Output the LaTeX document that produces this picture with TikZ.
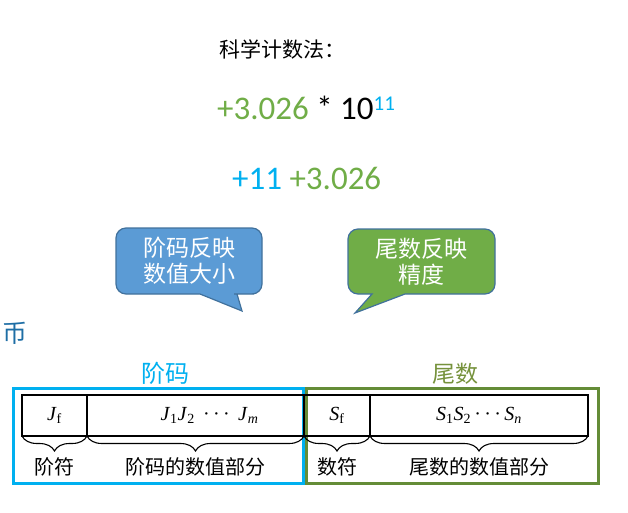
\documentclass[tikz,border=0pt]{standalone}
\usepackage{fontspec}
\setmainfont{Carlito}
\newfontfamily\cjk{Noto Sans CJK SC}
\newfontfamily\cellfont{Liberation Serif}
\usepackage{tikz}
\usetikzlibrary{
	positioning,
	decorations.pathreplacing
}
\definecolor{ExpBlue}{RGB}{0,176,240}
\definecolor{ManGreen}{RGB}{112,173,71}
\definecolor{ManOlive}{RGB}{118,146,60}
\definecolor{ManDark}{RGB}{100,140,55}
\definecolor{NoteBlue}{RGB}{91,155,213}
\definecolor{NoteEdge}{RGB}{65,113,156}
\definecolor{StrayBlue}{RGB}{30,110,165}
\newcommand{\symsub}[2]{\textit{#1}\textsubscript{#2}}
\newcommand{\symdots}{\,\textperiodcentered\,\textperiodcentered\,\textperiodcentered\,}

\begin{document}
\begin{tikzpicture}[
	x=1pt,
	y=-1pt,
	cjktext/.style={font=\cjk\fontsize{20}{22}\selectfont, inner sep=0pt},
	cell/.style={draw=black, line width=1.2pt, minimum height=41pt, inner sep=0pt, outer sep=0pt},
	celltext/.style={font=\cellfont\fontsize{20}{22}\selectfont, inner sep=0pt},
	fieldbrace/.style={decorate, decoration={brace, mirror, amplitude=15pt}, line width=1.1pt},
	bubble/.style={draw=NoteEdge, line width=1.2pt},
	bubbletext/.style={font=\cjk\fontsize{23}{26}\selectfont, text=white, align=center, inner sep=0pt}
	]
				
				\useasboundingbox (0,0) rectangle (628,512);
				
				% formula lines
				\node[
				font=\cjk\fontsize{21}{24}\selectfont,
				inner sep=0pt
				] (title) at (282,49) {科学计数法：};
				
				\node[
				font=\fontsize{33}{36}\selectfont,
				anchor=base west,
				inner sep=0pt
				] (sci) at (217,119) {\textcolor{ManGreen}{+3.026} * 10\raisebox{9pt}{\fontsize{21}{21}\selectfont\textcolor{ExpBlue}{11}}};
				
				\node[
				font=\fontsize{33}{36}\selectfont,
				anchor=base west,
				inner sep=0pt
				] (stored) at (232,189) {\textcolor{ExpBlue}{+11} \textcolor{ManGreen}{+3.026}};
				
				% callouts
				\draw[
				bubble,
				fill=NoteBlue,
				rounded corners=10pt
				] (116,261) -- (116,228) -- (262,228) -- (262,294) -- (244,294)
				[sharp corners] -- (237,294) -- (242,311) -- (200,294) -- (150,294)
				[rounded corners=10pt] -- (116,294) -- cycle;
				
				\draw[
				bubble,
				fill=ManGreen,
				rounded corners=10pt
				] (348,261) -- (348,229) -- (495,229) -- (495,294) -- (430,294)
				[sharp corners] -- (405,294) -- (355,313) -- (372,294) -- (360,294)
				[rounded corners=10pt] -- (348,294) -- cycle;
				
				\node[bubbletext] (expnote) at (189,261) {阶码反映\\数值大小};
				\node[bubbletext] (mannote) at (421,262) {尾数反映\\精度};
				
				\node[
				font=\cjk\fontsize{25}{27}\selectfont,
				text=StrayBlue,
				inner sep=0pt
				] (stray) at (15,333) {币};
				
				% field groups
				\node[
				cjktext,
				font=\cjk\fontsize{24}{26}\selectfont,
				text=ExpBlue
				] (explabel) at (165,373) {阶码};
				
				\node[
				cjktext,
				font=\cjk\fontsize{23}{26}\selectfont,
				text=ManOlive
				] (manlabel) at (455,374) {尾数};
				
				\draw[ExpBlue, line width=3pt] (13,388) rectangle (303.5,483);
				\draw[ManDark, line width=3pt] (306.5,388) rectangle (598,483);
				
				% the word
				\node[cell, minimum width=65pt, anchor=north west] (jf) at (22,395) {};
				\node[cell, minimum width=217pt, right=0pt of jf] (jm) {};
				\node[cell, minimum width=66pt, right=0pt of jm] (sf) {};
				\node[cell, minimum width=218pt, right=0pt of sf] (sn) {};
				
				\node[celltext] (jftext) at (jf) {\symsub{J}{f}};
				\node[celltext] (jmtext) at ([xshift=14pt]jm.center) {\symsub{J}{1}\symsub{J}{2}\ \symdots\ \symsub{J}{\textit{m}}};
				\node[celltext] (sftext) at (sf) {\symsub{S}{f}};
				\node[celltext] (sntext) at (sn) {\symsub{S}{1}\symsub{S}{2}\symdots\symsub{S}{\textit{n}}};
				
				\draw[fieldbrace] (jf.south west) -- (jf.south east);
				\draw[fieldbrace] (jm.south west) -- (jm.south east);
				\draw[fieldbrace] (sf.south west) -- (sf.south east);
				\draw[fieldbrace] (sn.south west) -- (sn.south east);
				
				\node[cjktext, below=21pt of jf] (jflabel) {阶符};
				\node[cjktext, below=21pt of jm] (jmlabel) {阶码的数值部分};
				\node[cjktext, below=21pt of sf] (sflabel) {数符};
				\node[cjktext, below=21pt of sn] (snlabel) {尾数的数值部分};
				
			\end{tikzpicture}
\end{document}
